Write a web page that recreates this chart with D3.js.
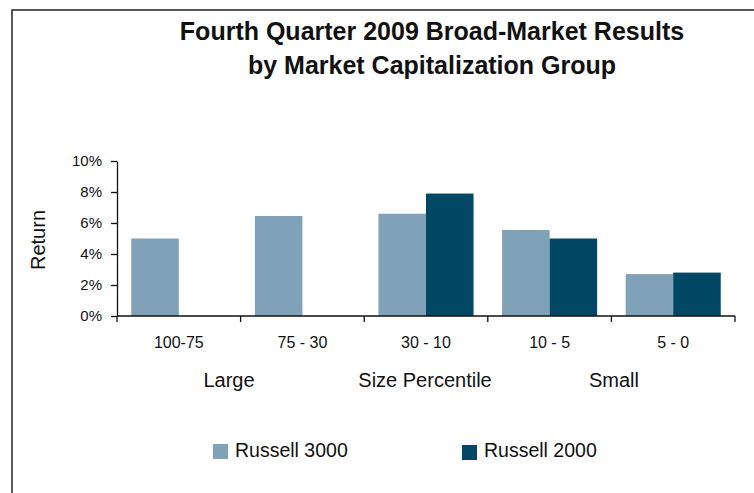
<!DOCTYPE html>
<html lang="en">
<head>
<meta charset="utf-8">
<title>Fourth Quarter 2009 Broad-Market Results</title>
<style>
  body { margin:0; background:white; }
  svg text { font-family:"Liberation Sans", Arial, sans-serif; fill:#111; }
  .title { font-size:25px; font-weight:bold; }
  .axis text { font-size:15px; }
  .axis .cat { font-size:16px; }
  .axis path, .axis line { stroke:#111; stroke-width:1.3px; }
  .lbl { font-size:20px; }
  .leg text { font-size:19.5px; }
</style>
</head>
<body>
<svg class="chart"></svg>
<script src="https://cdnjs.cloudflare.com/ajax/libs/d3/7.8.5/d3.min.js"></script>
<script>
// data (returns in %)
var categories = ["100-75", "75 - 30", "30 - 10", "10 - 5", "5 - 0"];
var seriesNames = ["Russell 3000", "Russell 2000"];
var russell3000 = [5.0, 6.45, 6.6, 5.55, 2.7];
var russell2000 = [null, null, 7.9, 5.0, 2.8];
var yTicks = [0, 2, 4, 6, 8, 10];
var groupLabels = ["Large", "Size Percentile", "Small"];
var colors = ["#7fa2b8", "#024764"];

var W = 754, H = 493;
var svg = d3.select('.chart').attr('width', W).attr('height', H);

// outer frame (right and bottom run off the picture)
svg.append('rect')
  .attr('x', 12).attr('y', 10)
  .attr('width', 760).attr('height', 500)
  .attr('fill', 'white')
  .attr('stroke', '#222').attr('stroke-width', 1.5);

// title
var title = svg.append('text').attr('class', 'title').attr('text-anchor', 'middle');
title.append('tspan').attr('x', 432).attr('y', 40).text("Fourth Quarter 2009 Broad-Market Results");
title.append('tspan').attr('x', 432).attr('y', 73.5).text("by Market Capitalization Group");

// scales
var x = d3.scaleBand().domain(categories).range([117, 735]);
var x1 = d3.scaleBand().domain(seriesNames).range([0, x.bandwidth()]).paddingOuter(0.3);
var y = d3.scaleLinear().domain([0, 10]).range([316, 161]);

// bars
var rows = categories.map(function(c, i) {
  return { cat:c, vals:[russell3000[i], russell2000[i]] };
});
var g = svg.selectAll('.grp').data(rows).enter().append('g')
  .attr('transform', function(d){ return 'translate(' + x(d.cat) + ',0)'; });
g.selectAll('rect')
  .data(function(d){ return d.vals.map(function(v, j){ return { s:seriesNames[j], v:v, j:j }; }).filter(function(e){ return e.v != null; }); })
  .enter().append('rect')
  .attr('x', function(e){ return x1(e.s); })
  .attr('width', x1.bandwidth())
  .attr('y', function(e){ return y(e.v); })
  .attr('height', function(e){ return y(0) - y(e.v); })
  .attr('fill', function(e){ return colors[e.j]; });

// y axis
svg.append('g').attr('class', 'axis')
  .attr('transform', 'translate(117,0)')
  .call(d3.axisLeft(y).tickValues(yTicks).tickSize(6).tickSizeOuter(0).tickPadding(9)
    .tickFormat(function(d){ return d + '%'; }));

// x axis: ticks sit at the category boundaries
var xAxisG = svg.append('g').attr('class', 'axis').attr('transform', 'translate(0,316)');
xAxisG.append('path').attr('d', 'M' + x.range()[0] + ',0H' + x.range()[1]);
var bounds = categories.map(function(c){ return x(c); }).concat([x.range()[1]]);
xAxisG.selectAll('line.b').data(bounds).enter().append('line')
  .attr('x1', function(d){ return d; }).attr('x2', function(d){ return d; })
  .attr('y1', 0).attr('y2', 6);
xAxisG.selectAll('text.cat').data(categories).enter().append('text')
  .attr('class', 'cat')
  .attr('x', function(d){ return x(d) + x.bandwidth() / 2; })
  .attr('y', 32)
  .attr('text-anchor', 'middle')
  .text(function(d){ return d; });

// group labels under the axis
var groupX = [229, 425, 614];
svg.selectAll('.grpLbl').data(groupLabels).enter().append('text')
  .attr('class', 'lbl')
  .attr('x', function(d, i){ return groupX[i]; })
  .attr('y', 387)
  .attr('text-anchor', 'middle')
  .text(function(d){ return d; });

// y title
svg.append('text').attr('class', 'lbl')
  .attr('transform', 'translate(45,240) rotate(-90)')
  .attr('text-anchor', 'middle')
  .text('Return');

// legend
var legX = [213, 462];
var leg = svg.selectAll('.leg').data(seriesNames).enter().append('g')
  .attr('class', 'leg')
  .attr('transform', function(d, i){ return 'translate(' + legX[i] + ',444)'; });
leg.append('rect').attr('width', 15).attr('height', 15)
  .attr('y', function(d, i){ return i; })
  .attr('fill', function(d, i){ return colors[i]; });
leg.append('text')
  .attr('x', 22).attr('y', 13)
  .text(function(d){ return d; });
</script>
</body>
</html>
